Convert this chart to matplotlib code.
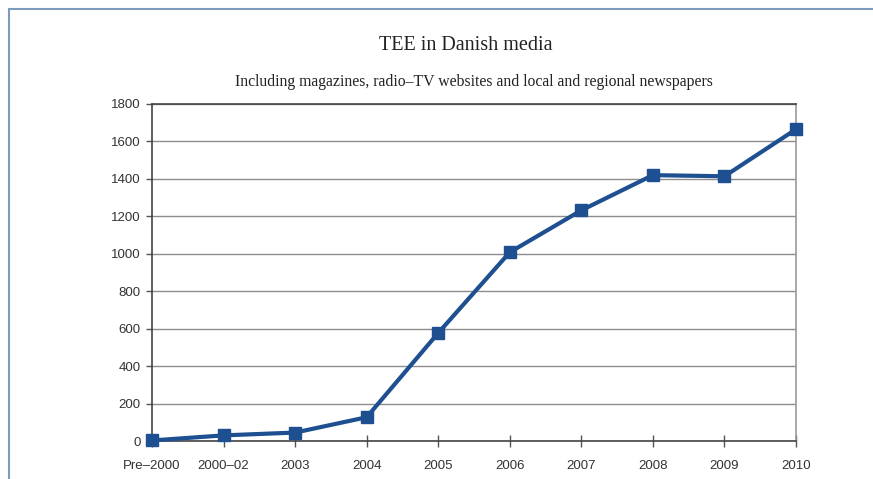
import matplotlib.pyplot as plt
from matplotlib.patches import Rectangle

periods = ['Pre\u20132000', '2000\u201302', '2003', '2004', '2005',
           '2006', '2007', '2008', '2009', '2010']
tee_count = [3, 30, 45, 127, 577, 1008, 1232, 1420, 1414, 1665]
y_ticks = [0, 200, 400, 600, 800, 1000, 1200, 1400, 1600, 1800]

fig = plt.figure(figsize=(8.73, 4.79), dpi=100)

# blue-grey frame around the page
fig.patches.append(Rectangle((9 / 873, -0.1), 1.2, 1 - 9 / 479 + 0.1,
                             transform=fig.transFigure, fill=False,
                             edgecolor='#7b9bb8', linewidth=1.5))

ax = fig.add_axes([152 / 873, 1 - 441 / 479, 644 / 873, 337 / 479])
x = list(range(len(periods)))
ax.plot(x, tee_count, color='#1d4f91', linewidth=3, marker='s',
        markersize=8, clip_on=False, zorder=3)

ax.set_xlim(0, len(periods) - 1)
ax.set_ylim(0, 1800)
ax.set_xticks(x)
ax.set_xticklabels(periods, fontsize=9.5, color='#333333',
                   family='Liberation Sans')
ax.set_yticks(y_ticks)
ax.set_yticklabels([str(v) for v in y_ticks], fontsize=9.5, color='#333333',
                   family='Liberation Sans')
ax.tick_params(axis='x', direction='inout', length=8, width=1,
               color='#555555', pad=10)
ax.tick_params(axis='y', direction='out', length=4, width=1,
               color='#555555', pad=4)
ax.yaxis.grid(True, color='#8c8c8c', linewidth=1)
ax.set_axisbelow(True)
for side in ['left', 'top', 'bottom']:
    ax.spines[side].set_color('#444444')
    ax.spines[side].set_linewidth(1.2)
ax.spines['right'].set_color('#999999')
ax.spines['right'].set_linewidth(1.2)

fig.text(466 / 873, 1 - 46 / 479, 'TEE in Danish media', ha='center',
         va='center', fontsize=14.5, family='Liberation Serif', color='#222222')
fig.text(474 / 873, 1 - 82 / 479,
         'Including magazines, radio\u2013TV websites and local and regional newspapers',
         ha='center', va='center', fontsize=11.3, family='Liberation Serif',
         color='#222222')

fig.savefig('out.png', dpi=100)
plt.close(fig)
